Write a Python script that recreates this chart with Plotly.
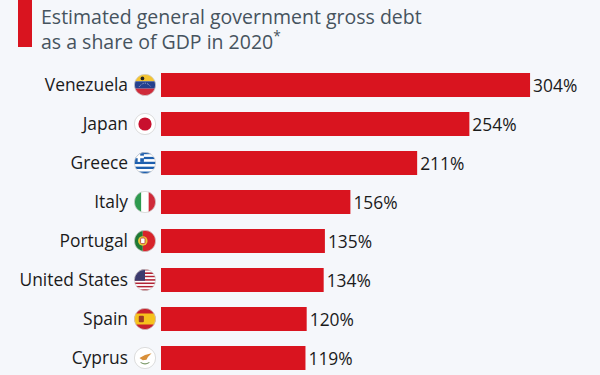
import base64
import plotly.graph_objects as go

countries = ["Venezuela", "Japan", "Greece", "Italy", "Portugal", "United States", "Spain", "Cyprus"]
debt_share = [304, 254, 211, 156, 135, 134, 120, 119]
labels = [f"{v}%" for v in debt_share]

def clip(body):
    return ('<svg xmlns="http://www.w3.org/2000/svg" viewBox="0 0 60 60"><defs><clipPath id="c"><circle cx="30" cy="30" r="29"/></clipPath></defs>'
            '<g clip-path="url(#c)">' + body + '</g><circle cx="30" cy="30" r="29" fill="none" stroke="#cfcfcf" stroke-width="2"/></svg>')

us_stripes = "".join(f'<rect y="{i*60/13:.2f}" width="60" height="{60/13:.2f}" fill="{"#b22234" if i%2==0 else "#fff"}"/>' for i in range(13))
gr_stripes = "".join(f'<rect y="{i*60/9:.2f}" width="60" height="{60/9:.2f}" fill="{"#1d5fae" if i%2==0 else "#fff"}"/>' for i in range(9))
flags = {
 "Venezuela": clip('<rect width="60" height="20" fill="#f4c430"/><rect y="20" width="60" height="20" fill="#24408e"/><rect y="40" width="60" height="20" fill="#cf2a3a"/>'
                   '<circle cx="23" cy="12" r="5" fill="#222"/><path d="M14 35 Q30 15 46 35" fill="none" stroke="#fff" stroke-width="2" stroke-dasharray="2 3"/>'),
 "Japan": clip('<rect width="60" height="60" fill="#fff"/><circle cx="30" cy="30" r="18" fill="#c8102e"/>'),
 "Greece": clip(gr_stripes + '<rect width="27" height="27" fill="#1d5fae"/><rect x="10" width="7" height="27" fill="#fff"/><rect y="10" width="27" height="7" fill="#fff"/>'),
 "Italy": clip('<rect width="20" height="60" fill="#2e9a4f"/><rect x="20" width="20" height="60" fill="#fff"/><rect x="40" width="20" height="60" fill="#cf2a3a"/>'),
 "Portugal": clip('<rect width="24" height="60" fill="#1f7a35"/><rect x="24" width="36" height="60" fill="#d8232a"/><circle cx="24" cy="30" r="13" fill="#e9c33a"/><rect x="18" y="22" width="12" height="15" rx="3" fill="#fff" stroke="#b5232a" stroke-width="2"/>'),
 "United States": clip(us_stripes + '<rect width="30" height="32" fill="#3c3b6e"/>'),
 "Spain": clip('<rect width="60" height="60" fill="#c8202c"/><rect y="15" width="60" height="30" fill="#f6c21c"/><rect x="13" y="21" width="14" height="18" rx="3" fill="#9c3a24"/>'),
 "Cyprus": clip('<rect width="60" height="60" fill="#fff"/><path d="M15 30 L30 22 L48 17 L38 27 L34 35 L24 36 Z" fill="#d9903a"/><path d="M18 42 Q30 50 42 42" fill="none" stroke="#7d9a6a" stroke-width="3"/>'),
}

def uri(svg):
    return "data:image/svg+xml;base64," + base64.b64encode(svg.encode()).decode()

W, H = 600, 375
images = [dict(source=uri(flags[c]), xref="paper", yref="y", x=-16/439, y=c, sizex=22/439, sizey=22/39,
               xanchor="center", yanchor="middle", sizing="stretch", layer="above") for c in countries]

fig = go.Figure(go.Bar(
    y=countries, x=debt_share, orientation="h", width=0.62,
    marker=dict(color="#d9141f", line=dict(width=0)),
    text=labels, textposition="outside", cliponaxis=False,
    textfont=dict(family="Open Sans", size=17.4, color="#1b1b1b"),
))
fig.update_layout(
    width=W, height=H, margin=dict(l=161, r=0, t=0, b=0), autosize=False,
    paper_bgcolor="#f5f7fb", plot_bgcolor="#f5f7fb", showlegend=False,
    images=images,
    xaxis=dict(range=[0, 361.6], visible=False, fixedrange=True),
    yaxis=dict(type="category", categoryorder="array", categoryarray=countries, range=[7.436, -2.179],
               showgrid=False, showline=False, zeroline=False, ticks="", ticklabelstandoff=32,
               tickfont=dict(family="Open Sans", size=17.4, color="#1b1b1b"), fixedrange=True),
    shapes=[dict(type="rect", xref="paper", yref="paper", x0=-143/439, x1=-129/439, y0=1-47/375, y1=1,
                 fillcolor="#d9141f", line=dict(width=0))],
    annotations=[dict(text="Estimated general government gross debt<br>as a share of GDP in 2020<sup>*</sup>",
                      xref="paper", yref="paper", x=-122/439, y=1-1/375, xanchor="left", yanchor="top", align="left",
                      showarrow=False, font=dict(family="Open Sans", size=19.5, color="#46535e"))],
)
fig.write_html("out.html", config=dict(displayModeBar=False),
               post_script="document.body.style.margin='0';document.body.style.overflow='hidden';document.body.style.background='#f5f7fb';")
